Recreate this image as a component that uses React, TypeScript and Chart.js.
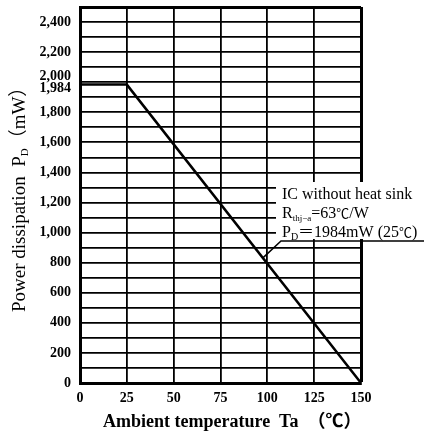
import React, { useEffect, useRef } from 'react';
import { Chart, registerables } from 'chart.js';

Chart.register(...registerables);

// ---- data ----
const temperatures = [0, 25, 150];
const powerDissipation = [1984, 1984, 0];
const xTickValues = [0, 25, 50, 75, 100, 125, 150];
const yGridValues = [0, 100, 200, 300, 400, 500, 600, 700, 800, 900, 1000, 1100, 1200, 1300, 1400, 1500, 1600, 1700, 1800, 1900, 1984, 2000, 2100, 2200, 2300, 2400, 2500];
const yLabelValues = [0, 200, 400, 600, 800, 1000, 1200, 1400, 1600, 1800, 1984, 2000, 2200, 2400];
const xTitleParts = ['Ambient temperature  Ta', '（℃）'];
const yTitleMain = 'Power dissipation  P';
const yTitleSub = 'D';
const yTitleTail = '（mW）';
const noteLine1 = [{ t: 'IC without heat sink' }];
const noteLine2 = [{ t: 'R' }, { t: 'thj−a', sub: true }, { t: '=63' }, { t: '℃', cjk: true }, { t: '/W' }];
const noteLine3 = [{ t: 'P' }, { t: 'D', sub: true }, { t: '＝1984mW (25' }, { t: '℃', cjk: true }, { t: ')' }];
const leaderTarget = { x: 97.5, y: 830 };

const SERIF = "'Liberation Serif', 'Noto Sans CJK JP', serif";

function drawSegments(ctx: CanvasRenderingContext2D, segs: any[], x: number, y: number, size: number, weight = 'normal', subScale = 0.6) {
  let cx = x;
  for (const s of segs) {
    let sz = size;
    let dy = 0;
    if (s.sub) {
      sz = Math.round(size * subScale);
      dy = size * 0.18;
    } else if (s.cjk) {
      sz = Math.round(size * 0.8);
    }
    ctx.font = `${weight} ${sz}px ${SERIF}`;
    ctx.fillText(s.t, cx, y + dy);
    cx += ctx.measureText(s.t).width;
  }
  return cx;
}

const overlayPlugin = {
  id: 'overlay',
  afterDraw(chart: any) {
    const ctx: CanvasRenderingContext2D = chart.ctx;
    const xs = chart.scales.x;
    const ys = chart.scales.y;
    ctx.save();
    // annotation box
    ctx.fillStyle = '#fff';
    ctx.fillRect(276, 182, 148, 57);
    ctx.fillStyle = '#000';
    ctx.textAlign = 'left';
    ctx.textBaseline = 'alphabetic';
    drawSegments(ctx, noteLine1, 282, 199, 16);
    drawSegments(ctx, noteLine2, 282, 218, 16, 'normal', 0.56);
    drawSegments(ctx, noteLine3, 282, 237, 16, 'normal', 0.6);
    // leader line
    const tx = xs.getPixelForValue(leaderTarget.x);
    const ty = ys.getPixelForValue(leaderTarget.y);
    ctx.strokeStyle = '#000';
    ctx.lineWidth = 1.5;
    ctx.beginPath();
    ctx.moveTo(424, 241);
    ctx.lineTo(281, 241);
    ctx.lineTo(tx, ty);
    ctx.stroke();

    // x title
    ctx.textAlign = 'left';
    drawSegments(ctx, [{ t: xTitleParts[0] }, { t: '  ' }, { t: xTitleParts[1] }], 103, 427, 18, 'bold');

    // y title
    ctx.translate(25, 312);
    ctx.rotate(-Math.PI / 2);
    ctx.textAlign = 'left';
    drawSegments(ctx, [{ t: yTitleMain }, { t: yTitleSub, sub: true }, { t: yTitleTail }], 0, 0, 19);
    ctx.restore();
  },
};

export default function App() {
  const ref = useRef<HTMLCanvasElement>(null);
  useEffect(() => {
    document.body.style.margin = '0';
    const tickFont = { family: SERIF, size: 14, weight: 'bold' as const, lineHeight: 1 };
    const chart = new Chart(ref.current!, {
      type: 'line',
      data: {
        datasets: [
          {
            data: temperatures.map((t, i) => ({ x: t, y: powerDissipation[i] })),
            borderColor: '#000',
            borderWidth: 2.5,
            pointRadius: 0,
            tension: 0,
            fill: false,
          },
        ],
      },
      options: {
        responsive: false,
        animation: false,
        layout: { padding: { top: 7, right: 63, left: 0, bottom: 0 } },
        plugins: { legend: { display: false }, tooltip: { enabled: false }, title: { display: false } },
        scales: {
          x: {
            type: 'linear',
            min: 0,
            max: 150,
            afterBuildTicks: (s: any) => {
              s.ticks = xTickValues.map((v) => ({ value: v }));
            },
            afterFit: (s: any) => {
              s.height = 51;
              s.paddingLeft = 0;
              s.paddingRight = 0;
            },
            ticks: { color: '#000', font: tickFont, padding: 8, maxRotation: 0, autoSkip: false, callback: (v: any) => String(v) },
            grid: {
              color: '#000',
              drawTicks: false,
              lineWidth: (c: any) => (c.tick && c.tick.value === 150 ? 3 : 1.8),
            },
            border: { color: '#000', width: 3 },
          },
          y: {
            type: 'linear',
            min: 0,
            max: 2500,
            afterBuildTicks: (s: any) => {
              s.ticks = yGridValues.map((v) => ({ value: v }));
            },
            afterFit: (s: any) => {
              s.width = 80;
              s.paddingTop = 0;
              s.paddingBottom = 0;
            },
            ticks: {
              color: '#000',
              font: (c: any) => {
                const v = c.tick ? c.tick.value : null;
                if (v === 1984) return { ...tickFont, lineHeight: 0.55 };
                if (v === 2000) return { ...tickFont, lineHeight: 0.8 };
                return tickFont;
              },
              padding: 9,
              autoSkip: false,
              callback: (v: any) => {
                if (!yLabelValues.includes(v)) return '';
                const s = Number(v).toLocaleString('en-US');
                if (v === 2000) return [s, ''];
                if (v === 1984) return ['', s];
                return s;
              },
            },
            grid: {
              drawTicks: false,
              color: (c: any) => (c.tick && c.tick.value === 1984 ? 'rgba(0,0,0,0)' : '#000'),
              lineWidth: (c: any) => (c.tick && c.tick.value === 2500 ? 3 : 1.8),
            },
            border: { color: '#000', width: 3 },
          },
        },
      },
      plugins: [overlayPlugin],
    });
    return () => chart.destroy();
  }, []);
  return <canvas ref={ref} width={424} height={434} style={{ display: 'block', width: 424, height: 434 }} />;
}
